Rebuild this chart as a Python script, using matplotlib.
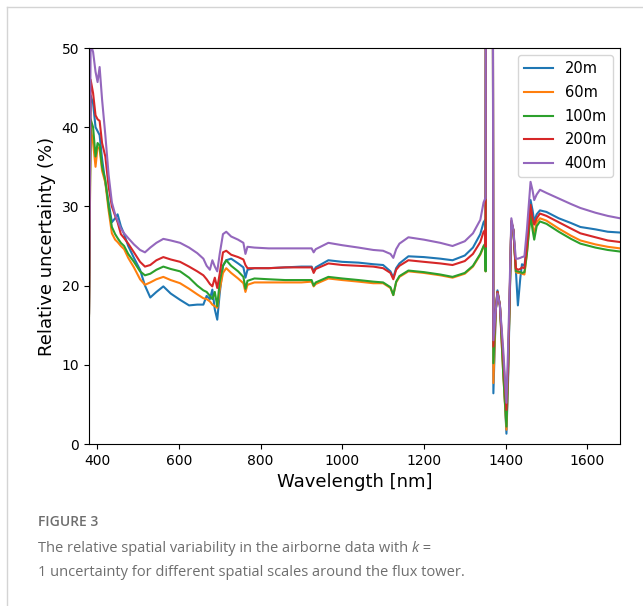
import matplotlib
matplotlib.use("Agg")
import matplotlib.pyplot as plt
from matplotlib.lines import Line2D

# Longitudes de onda (nm) y valores
wavelength = [380, 384, 390, 396, 401, 406, 412, 420, 428, 436, 444, 450, 458, 466, 476, 490,
              505, 517, 530, 545, 562, 580, 603, 625, 645, 660, 668, 676, 682, 688, 694, 700,
              708, 716, 728, 745, 758, 763, 768, 785, 820, 860, 900, 925, 930, 935, 966, 1000,
              1040, 1076, 1100, 1118, 1125, 1132, 1140, 1162, 1200, 1240, 1270, 1300, 1320, 1338,
              1346, 1350, 1351, 1352, 1360, 1368, 1370, 1376, 1380, 1386, 1394, 1402, 1406, 1414,
              1419, 1425, 1430, 1436, 1440, 1446, 1452, 1461, 1466, 1470, 1476, 1484, 1500, 1530,
              1560, 1583, 1620, 1650, 1680]

u_20m = [16.5, 44, 43, 40, 39.5, 39, 36, 33, 30.5, 28, 28.5, 29, 27.5, 26.5, 25, 23.5,
         22, 20, 18.5, 19.2, 19.9, 19, 18.2, 17.5, 17.6, 17.6, 18.7, 18.3, 19.5, 17, 15.7, 19,
         22.5, 23.2, 23.4, 22.8, 22.3, 21, 22, 22.2, 22.2, 22.3, 22.4, 22.4, 21.8, 22.3, 23.2, 23,
         22.9, 22.7, 22.6, 21.8, 21, 22.2, 22.8, 23.7, 23.6, 23.4, 23.2, 23.8, 24.8, 26.5,
         28, 28.3, 27, 90, 90, 90, 6.4, 17, 19.4, 17.5, 10, 1.3, 8, 28,
         27, 22, 17.5, 21, 22.7, 22.5, 25, 30.8, 29.5, 28.1, 29, 29.5, 29.3, 28.5,
         27.9, 27.4, 27.1, 26.8, 26.7]

u_60m = [16.2, 40, 38, 35, 37.5, 37.3, 34.5, 33, 29.5, 26.6, 25.8, 25.5, 25, 24.6, 23.5, 22.3,
         20.8, 20.1, 20.4, 20.8, 21.1, 20.7, 20.3, 19.6, 18.9, 18.4, 18.3, 18, 17.6, 17.4, 17.2, 19.5,
         21.6, 22.2, 21.6, 20.9, 20.3, 19.2, 20.1, 20.4, 20.4, 20.4, 20.4, 20.5, 19.9, 20.2, 20.9, 20.7,
         20.5, 20.3, 20.3, 19.7, 18.8, 20.4, 21.1, 21.8, 21.6, 21.3, 21, 21.5, 22.4, 23.9,
         24.9, 25.2, 21.8, 90, 90, 90, 7.7, 17, 19.2, 17.5, 9, 1.8, 9, 28,
         27, 21.7, 21.6, 21.6, 21.5, 21.4, 24, 29.5, 27.6, 26.5, 28, 28.5, 28.2, 27.2,
         26.3, 25.7, 25.2, 24.9, 24.7]

u_100m = [16.2, 41, 40, 36.3, 38, 37.7, 35, 33.3, 30, 27.4, 26.5, 26, 25.4, 25, 24, 23,
          21.8, 21.3, 21.5, 22, 22.4, 22.1, 21.8, 21, 20, 19.4, 19.2, 18.7, 18.3, 19.2, 17.4, 20.5,
          22.5, 23.2, 22.5, 21.8, 21.1, 19.6, 20.6, 20.9, 20.8, 20.7, 20.7, 20.7, 20.0, 20.4, 21.1, 20.9,
          20.7, 20.5, 20.4, 19.8, 18.8, 20.5, 21.2, 21.9, 21.7, 21.4, 21.1, 21.6, 22.5, 24,
          25, 25.3, 21.8, 90, 90, 90, 10.2, 17, 19.2, 17.5, 9, 2.2, 9, 28,
          27, 21.8, 21.8, 21.7, 21.6, 21.7, 24, 28.9, 27, 25.8, 27.5, 28.1, 27.8, 26.8,
          25.9, 25.3, 24.8, 24.5, 24.3]

u_200m = [16.5, 46, 44.3, 41.5, 41, 40.8, 38, 36.3, 32.5, 30, 28.8, 28, 26.5, 26, 25.3, 24.2,
          23, 22.4, 22.6, 23.2, 23.6, 23.3, 23, 22.4, 21.8, 21.3, 20.8, 20.2, 19.9, 21, 19.7, 21.5,
          24.2, 24.4, 23.9, 23.6, 23.3, 22.6, 22.2, 22.2, 22.2, 22.3, 22.3, 22.3, 21.6, 22.1, 22.8, 22.6,
          22.5, 22.4, 22.2, 21.6, 20.8, 22, 22.5, 23.2, 23.0, 22.8, 22.6, 23.1, 24, 25.5,
          26.8, 27, 24.9, 90, 90, 90, 12.3, 17, 19.2, 17.5, 11, 4.3, 10, 28.2,
          27, 22.2, 22, 22.1, 22.3, 22.2, 25, 30.2, 28.5, 27.7, 28.5, 29.1, 28.8, 28,
          27.2, 26.6, 26.1, 25.7, 25.5]

u_400m = [16.5, 50.5, 49.5, 47, 45.7, 47.6, 43.5, 39, 34, 30.5, 29, 28.2, 27.2, 26.6, 26, 25.2,
          24.5, 24.2, 24.8, 25.4, 25.9, 25.7, 25.4, 24.8, 24.1, 23.4, 22.5, 22, 23.2, 22.4, 21.8, 24,
          26.5, 26.8, 26.2, 25.8, 25.4, 24, 24.9, 24.8, 24.7, 24.7, 24.7, 24.7, 24.2, 24.6, 25.4, 25.1,
          24.8, 24.5, 24.4, 24.0, 23.5, 24.6, 25.3, 26.1, 25.8, 25.4, 25.0, 25.6, 26.6, 28.3,
          30.5, 31, 31, 90, 90, 90, 13.1, 17, 19, 17.5, 12, 5.2, 12, 28.5,
          27, 23.4, 23.4, 23.5, 23.6, 23.7, 27, 33.1, 32, 30.8, 31.5, 32.1, 31.7, 31,
          30.3, 29.8, 29.2, 28.8, 28.5]

escalas = ['20m', '60m', '100m', '200m', '400m']
series = [u_20m, u_60m, u_100m, u_200m, u_400m]
colores = ['#1f77b4', '#ff7f0e', '#2ca02c', '#d62728', '#9467bd']

fig = plt.figure(figsize=(6.43, 6.06), dpi=100)
ax = fig.add_axes([89 / 643, 1 - 444 / 606, (620 - 89) / 643, (444 - 48) / 606])

for nombre, valores, color in zip(escalas, series, colores):
    ax.plot(wavelength, valores, color=color, lw=1.5, label=nombre)

ax.set_xlim(380, 1680)
ax.set_ylim(0, 50)
ax.set_xticks([400, 600, 800, 1000, 1200, 1400, 1600])
ax.set_yticks([0, 10, 20, 30, 40, 50])
ax.set_xlabel("Wavelength [nm]", fontsize=13)
ax.set_ylabel("Relative uncertainty (%)", fontsize=13)
ax.legend(loc='upper right', fontsize=10.5, labelspacing=0.6)

# Marco del recuadro de la figura
fig.add_artist(Line2D([7 / 643, 1], [1 - 7 / 606, 1 - 7 / 606], color='#d4d4d4', lw=1))
fig.add_artist(Line2D([7 / 643, 7 / 643], [0, 1 - 7 / 606], color='#d4d4d4', lw=1))

# Pie de figura
fig.text(38 / 643, 1 - 522 / 606, "FIGURE 3", fontsize=10, color='#6e6e6e',
         family='Open Sans', weight='semibold', va='center')
t1 = fig.text(38 / 643, 1 - 548 / 606, "The relative spatial variability in the airborne data with ",
              fontsize=10.5, color='#6e6e6e', family='Open Sans', va='center')
fig.canvas.draw()
bb = t1.get_window_extent()
t2 = fig.text(bb.x1 / fig.bbox.width, 1 - 548 / 606, "k", fontsize=10.5, color='#6e6e6e',
              family='Open Sans', style='italic', va='center')
fig.canvas.draw()
bb2 = t2.get_window_extent()
fig.text(bb2.x1 / fig.bbox.width, 1 - 548 / 606, " =", fontsize=10.5, color='#6e6e6e',
         family='Open Sans', va='center')
fig.text(38 / 643, 1 - 572 / 606,
         "1 uncertainty for different spatial scales around the flux tower.",
         fontsize=10.5, color='#6e6e6e', family='Open Sans', va='center')

fig.savefig("out.png", dpi=100)
